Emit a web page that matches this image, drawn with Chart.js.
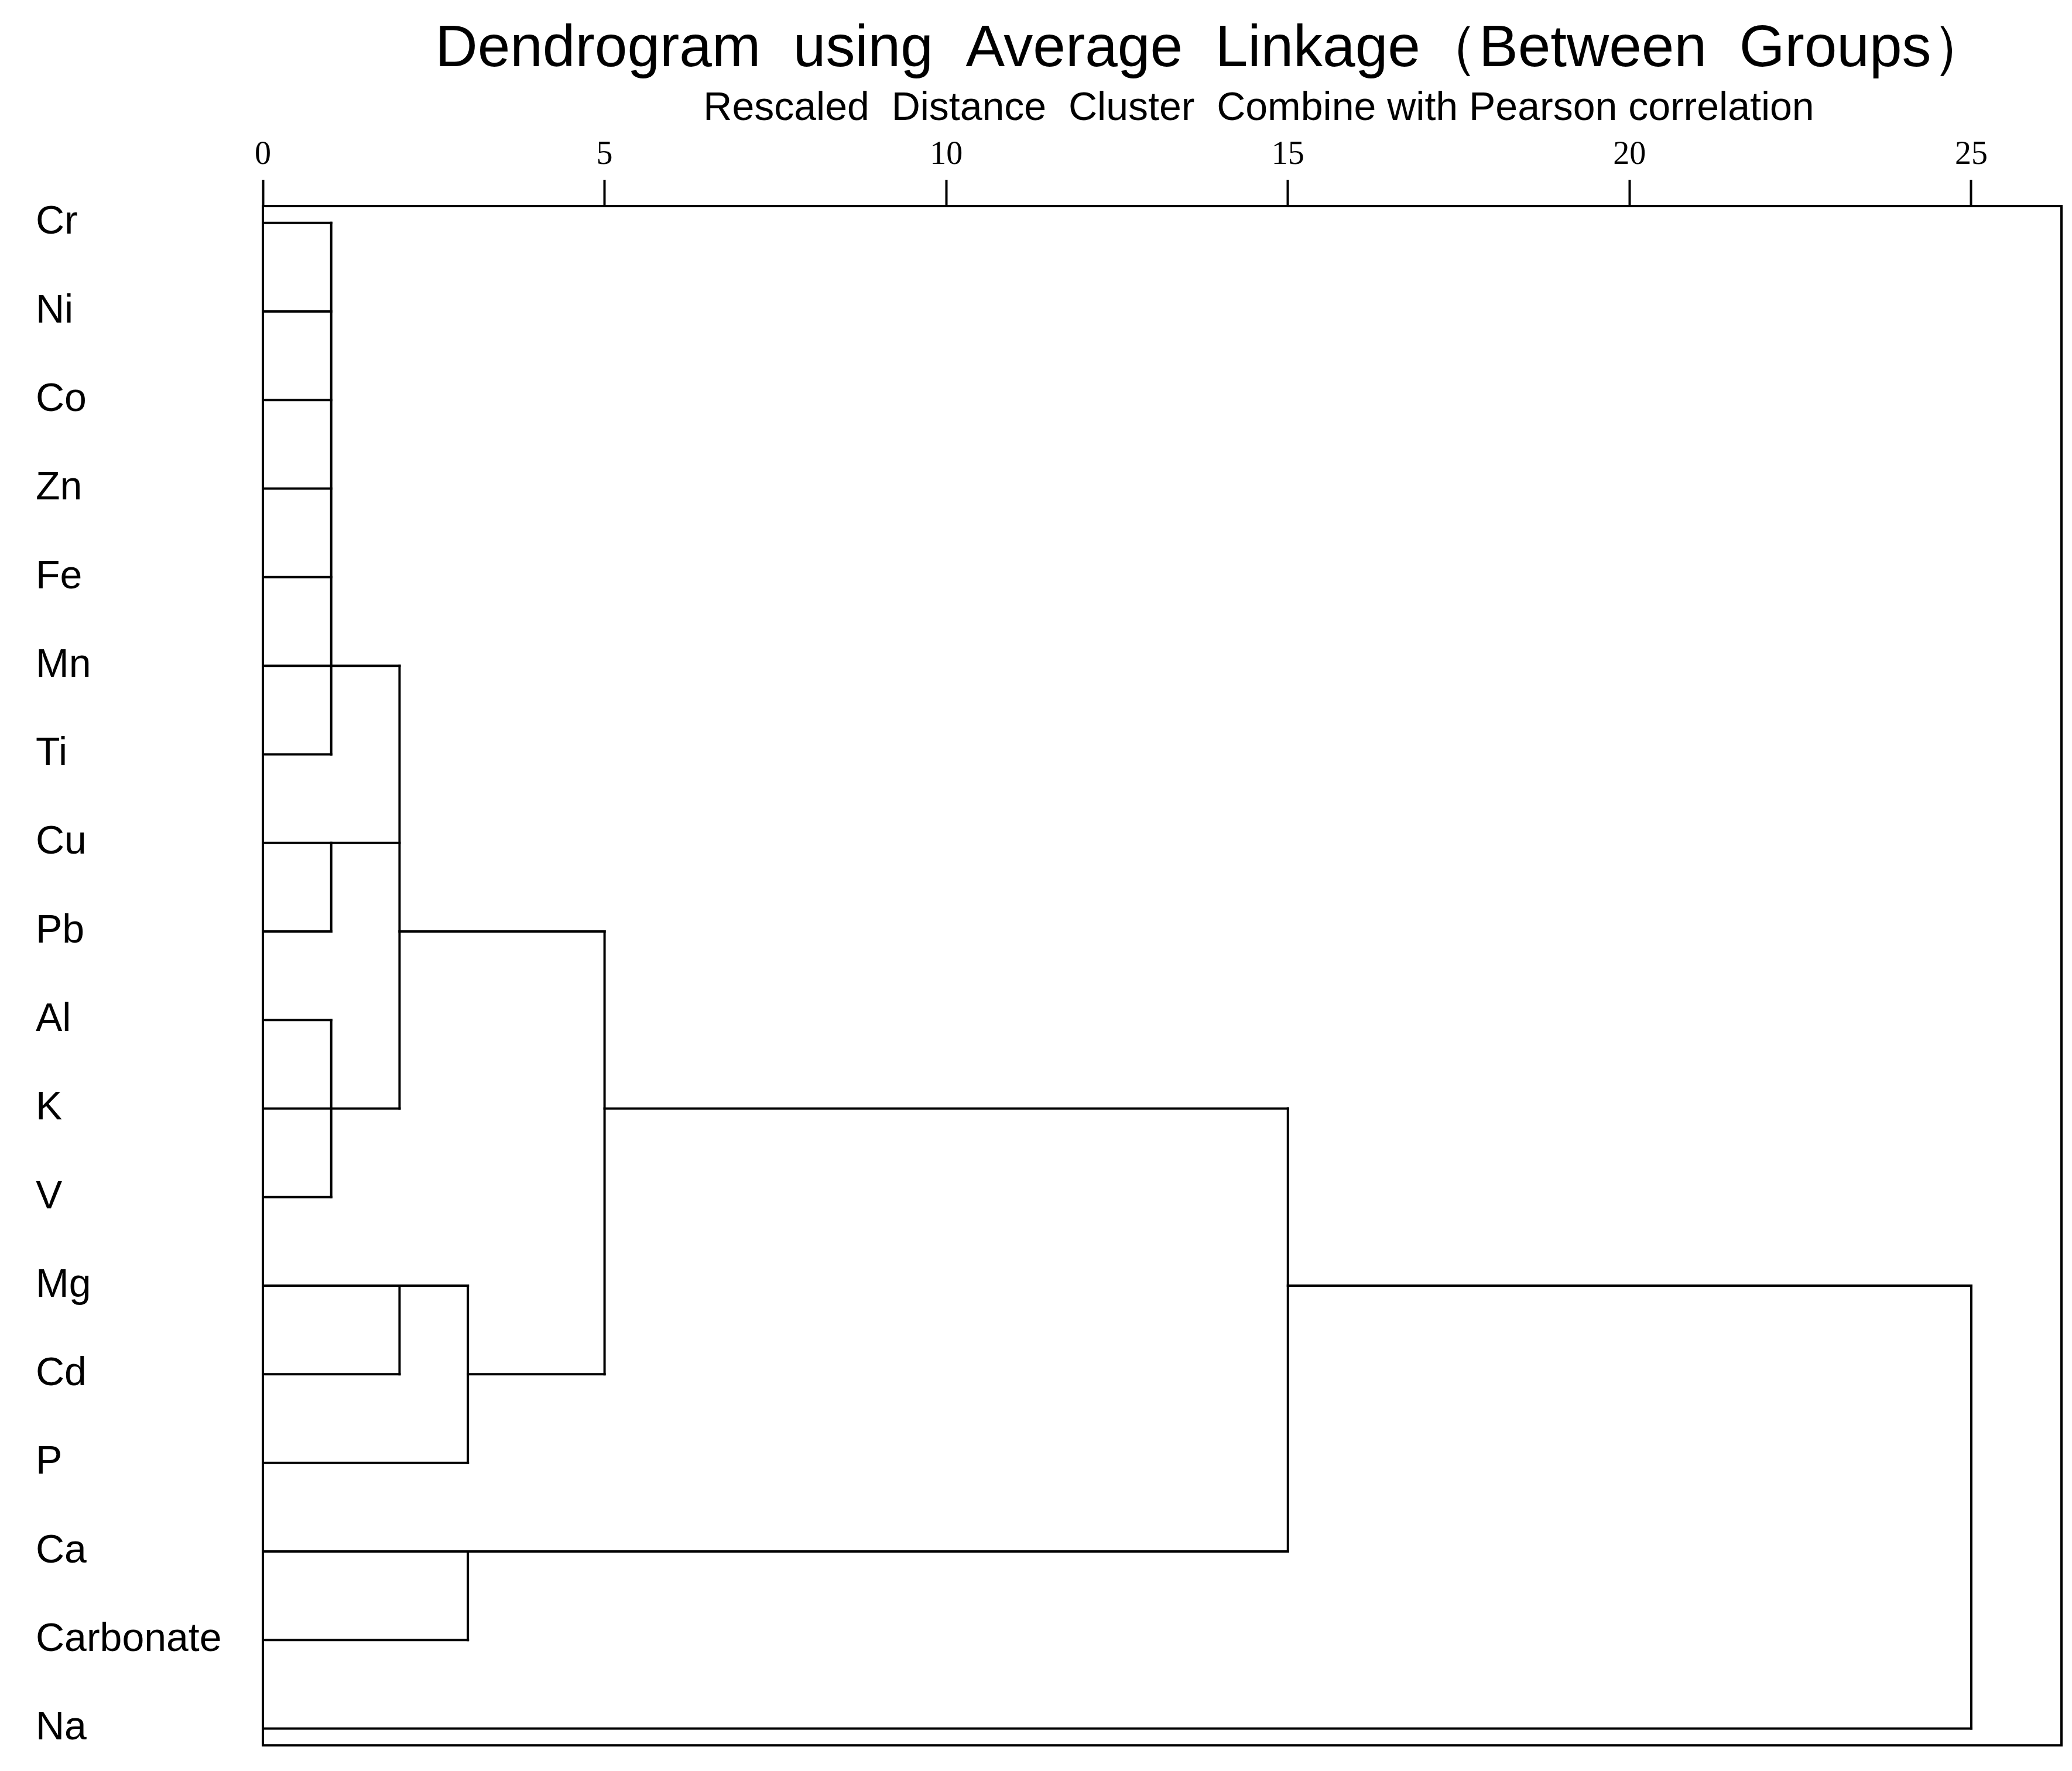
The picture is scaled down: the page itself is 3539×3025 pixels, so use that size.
<!DOCTYPE html>
<html>
<head>
<meta charset="utf-8">
<script src="https://cdn.jsdelivr.net/npm/chart.js@4/dist/chart.umd.min.js"></script>
<style>
  html, body { margin: 0; padding: 0; background: #fff; }
  #wrap { width: 3539px; height: 3025px; }
</style>
</head>
<body>
<div id="wrap"><canvas id="dendro"></canvas></div>
<script>
// row labels, top to bottom
const elements = ["Cr", "Ni", "Co", "Zn", "Fe", "Mn", "Ti", "Cu", "Pb", "Al", "K", "V", "Mg", "Cd", "P", "Ca", "Carbonate", "Na"];
const distanceTicks = [0, 5, 10, 15, 20, 25];

// dendrogram branches: [distance from, row, distance to, row]
const horizontals = [
    [0, 0, 1, 0], [0, 1, 1, 1], [0, 2, 1, 2], [0, 3, 1, 3], [0, 4, 1, 4],
    [0, 5, 2, 5], [0, 6, 1, 6],
    [0, 7, 2, 7], [0, 8, 1, 8],
    [0, 9, 1, 9], [0, 10, 2, 10], [0, 11, 1, 11],
    [2, 8, 5, 8],
    [0, 12, 3, 12], [0, 13, 2, 13], [3, 13, 5, 13], [0, 14, 3, 14],
    [5, 10, 15, 10], [0, 15, 15, 15], [0, 16, 3, 16],
    [15, 12, 25, 12], [0, 17, 25, 17]
];
const verticals = [
    [1, 0, 1, 6], [1, 7, 1, 8], [1, 9, 1, 11], [2, 5, 2, 10],
    [5, 8, 5, 13], [2, 12, 2, 13], [3, 12, 3, 14],
    [15, 10, 15, 15], [3, 15, 3, 16], [25, 12, 25, 17]
];

document.addEventListener("DOMContentLoaded", () => {
    const ctx = document.getElementById("dendro");

    const datasets = horizontals.concat(verticals).map(s => ({
        data: [{ x: s[0], y: s[1] }, { x: s[2], y: s[3] }],
        showLine: true,
        borderColor: "#000",
        borderWidth: 4,
        pointRadius: 0,
        borderCapStyle: "square"
    }));

    // box around the plot and the two title lines
    const frame = {
        id: "frame",
        afterDraw(chart) {
            const c = chart.ctx;
            const a = chart.chartArea;
            c.save();
            c.strokeStyle = "#000";
            c.lineWidth = 4;
            c.strokeRect(a.left, a.top, a.right - a.left, a.bottom - a.top);
            c.fillStyle = "#000";
            c.textAlign = "center";
            c.textBaseline = "alphabetic";
            c.font = "100px 'Liberation Sans', Arial, sans-serif";
            c.fillText("Dendrogram  using  Average  Linkage\uFF08Between  Groups\uFF09", 2071, 113);
            c.font = "68px 'Liberation Sans', Arial, sans-serif";
            c.fillText("Rescaled  Distance  Cluster  Combine with Pearson correlation", 2150, 205);
            c.restore();
        }
    };

    new Chart(ctx, {
        type: "scatter",
        data: { datasets: datasets },
        options: {
            responsive: true,
            maintainAspectRatio: false,
            animation: false,
            layout: { padding: { top: 230, left: 61, right: 18, bottom: 19 } },
            plugins: { legend: { display: false }, tooltip: { enabled: false } },
            scales: {
                x: {
                    type: "linear",
                    position: "top",
                    min: 0,
                    max: 26.32,
                    afterBuildTicks: (scale) => {
                        scale.ticks = distanceTicks.map(v => ({ value: v }));
                    },
                    afterFit: (scale) => { scale.height = 122; },
                    ticks: {
                        color: "#000",
                        font: { family: "'Liberation Serif', 'DejaVu Serif', serif", size: 56 },
                        padding: 8,
                        maxRotation: 0
                    },
                    grid: {
                        drawOnChartArea: false,
                        drawTicks: true,
                        tickLength: 45,
                        tickColor: "#000",
                        tickWidth: 4
                    },
                    border: { display: false }
                },
                y: {
                    type: "linear",
                    reverse: true,
                    min: -0.19,
                    max: 17.19,
                    afterBuildTicks: (scale) => {
                        scale.ticks = elements.map((e, i) => ({ value: i }));
                    },
                    afterFit: (scale) => { scale.width = 388; },
                    ticks: {
                        color: "#000",
                        crossAlign: "far",
                        font: { family: "'Liberation Sans', Arial, sans-serif", size: 68 },
                        callback: (v) => elements[v] !== undefined ? elements[v] : ""
                    },
                    grid: { display: false },
                    border: { display: false }
                }
            }
        },
        plugins: [frame]
    });
});
</script>
</body>
</html>
